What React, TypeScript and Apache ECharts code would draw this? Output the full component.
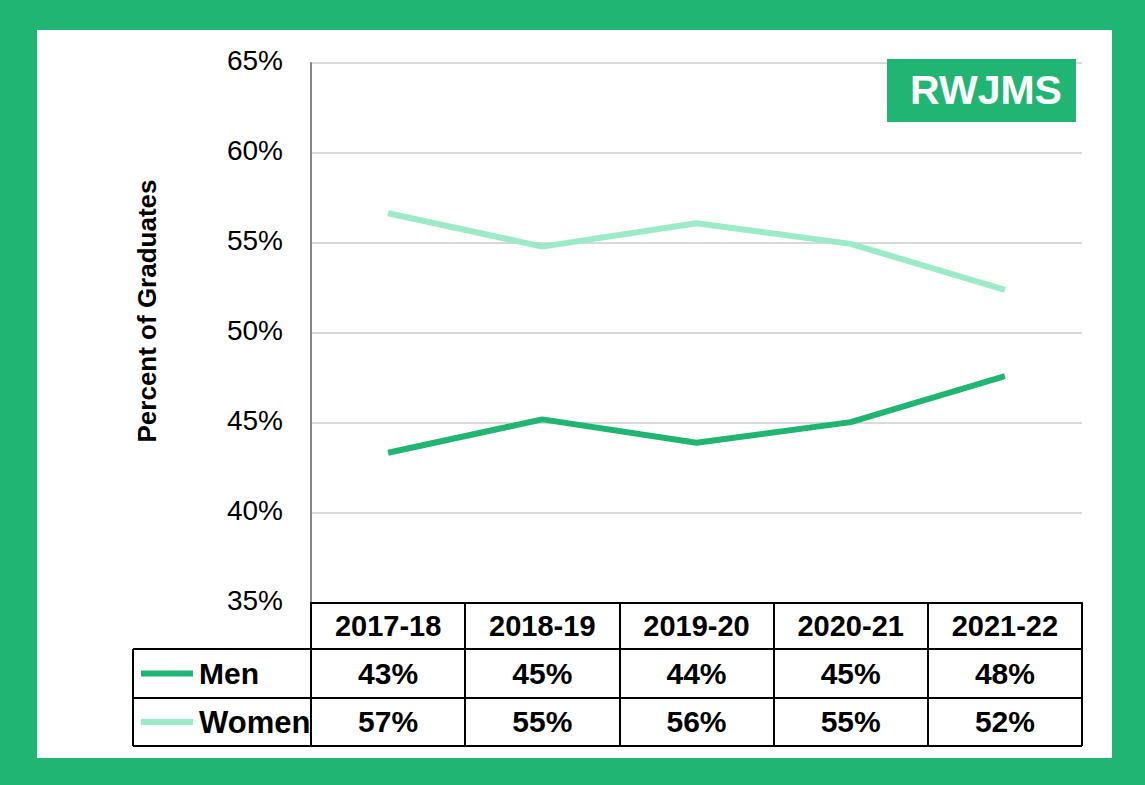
import React, { useEffect, useRef } from "react";
import * as echarts from "echarts";

const categories = ["2017-18", "2018-19", "2019-20", "2020-21", "2021-22"];
const menValues = [43.35, 45.2, 43.9, 45.05, 47.6];
const womenValues = [56.65, 54.8, 56.1, 54.95, 52.4];
const seriesNames = ["Men", "Women"];
const yTicks = { min: 35, max: 65, interval: 5 };
const axisTitle = "Percent of Graduates";
const badgeText = "RWJMS";

const GREEN = "#21B573";
const LIGHT = "#9BEBC8";
const FONT = "'Liberation Sans', Arial, sans-serif";

export default function App() {
  const ref = useRef<HTMLDivElement>(null);

  useEffect(() => {
    if (!ref.current) return;
    const chart = echarts.init(ref.current, undefined, { renderer: "svg" });

    const gridLeft = 274;
    const gridRight = 30;
    const gridTop = 33;
    const gridBottom = 155;
    const W = 1075;
    const H = 728;
    const axisY = H - gridBottom;
    const rowH1 = 46;
    const rowH2 = 49;
    const rowH3 = 48;
    const line1 = axisY + rowH1;
    const line2 = line1 + rowH2;
    const line3 = line2 + rowH3;
    const tableLeft = 96;
    const tableRight = W - gridRight;

    const lineColor = "#000";

    chart.setOption({
      animation: false,
      grid: { left: gridLeft, right: gridRight, top: gridTop, bottom: gridBottom },
      xAxis: {
        type: "category",
        data: categories,
        boundaryGap: true,
        axisLine: { show: true, lineStyle: { color: lineColor, width: 2 } },
        axisTick: {
          show: true,
          length: line3 - axisY,
          alignWithLabel: false,
          lineStyle: { color: lineColor, width: 2 },
        },
        axisLabel: {
          interval: 0,
          margin: 0,
          fontFamily: FONT,
          formatter: (value: string, index: number) =>
            `{h|${value}}\n{v|${Math.round(menValues[index])}%}\n{v|${Math.round(
              womenValues[index]
            )}%}`,
          rich: {
            h: {
              fontSize: 29,
              fontWeight: "bold",
              color: "#000",
              fontFamily: FONT,
              lineHeight: rowH1,
            },
            v: {
              fontSize: 30,
              fontWeight: "bold",
              color: "#000",
              fontFamily: FONT,
              lineHeight: 48.5,
            },
          },
        },
        splitLine: { show: false },
      },
      yAxis: {
        type: "value",
        min: yTicks.min,
        max: yTicks.max,
        interval: yTicks.interval,
        axisLine: { show: true, lineStyle: { color: "#868686", width: 2 } },
        axisTick: { show: false },
        axisLabel: {
          formatter: "{value}%",
          fontSize: 28,
          color: "#000",
          fontFamily: FONT,
          margin: 28,
          verticalAlign: "bottom",
          lineHeight: 6,
        },
        splitLine: { show: true, lineStyle: { color: "#d9d9d9", width: 2 } },
      },
      series: [
        {
          name: seriesNames[0],
          type: "line",
          data: menValues,
          symbol: "none",
          lineStyle: { color: GREEN, width: 6 },
          z: 3,
        },
        {
          name: seriesNames[1],
          type: "line",
          data: womenValues,
          symbol: "none",
          lineStyle: { color: LIGHT, width: 6 },
          z: 3,
        },
      ],
      graphic: [
        {
          type: "line",
          shape: { x1: tableLeft, y1: line1, x2: tableRight, y2: line1 },
          style: { stroke: lineColor, lineWidth: 2 },
        },
        {
          type: "line",
          shape: { x1: tableLeft, y1: line2, x2: tableRight, y2: line2 },
          style: { stroke: lineColor, lineWidth: 2 },
        },
        {
          type: "line",
          shape: { x1: tableLeft, y1: line3, x2: tableRight, y2: line3 },
          style: { stroke: lineColor, lineWidth: 2 },
        },
        {
          type: "line",
          shape: { x1: tableLeft, y1: line1, x2: tableLeft, y2: line3 },
          style: { stroke: lineColor, lineWidth: 2 },
        },
        {
          type: "line",
          shape: { x1: 104, y1: line1 + rowH2 / 2, x2: 156, y2: line1 + rowH2 / 2 },
          style: { stroke: GREEN, lineWidth: 6 },
        },
        {
          type: "line",
          shape: { x1: 104, y1: line2 + rowH3 / 2, x2: 156, y2: line2 + rowH3 / 2 },
          style: { stroke: LIGHT, lineWidth: 6 },
        },
        {
          type: "text",
          x: 162,
          y: line1 + rowH2 / 2,
          style: {
            text: seriesNames[0],
            fontSize: 30,
            fontWeight: "bold",
            fontFamily: FONT,
            fill: "#000",
            textAlign: "left",
            textVerticalAlign: "middle",
          },
        },
        {
          type: "text",
          x: 162,
          y: line2 + rowH3 / 2,
          style: {
            text: seriesNames[1],
            fontSize: 31,
            fontWeight: "bold",
            fontFamily: FONT,
            fill: "#000",
            textAlign: "left",
            textVerticalAlign: "middle",
          },
        },
        {
          type: "text",
          x: 110,
          y: 281,
          rotation: Math.PI / 2,
          style: {
            text: axisTitle,
            fontSize: 26,
            fontWeight: "bold",
            fontFamily: FONT,
            fill: "#000",
            textAlign: "center",
            textVerticalAlign: "middle",
          },
        },
        {
          type: "rect",
          shape: { x: 850, y: 29, width: 189, height: 63 },
          style: { fill: GREEN },
          z: 10,
        },
        {
          type: "text",
          x: 949,
          y: 60,
          z: 11,
          style: {
            text: badgeText,
            fontSize: 41,
            fontWeight: "bold",
            fontFamily: FONT,
            fill: "#fff",
            textAlign: "center",
            textVerticalAlign: "middle",
          },
        },
      ],
    });

    return () => {
      chart.dispose();
    };
  }, []);

  return (
    <div
      style={{
        position: "fixed",
        left: 0,
        top: 0,
        width: 1145,
        height: 785,
        background: GREEN,
      }}
    >
      <div
        ref={ref}
        style={{
          position: "absolute",
          left: 37,
          top: 30,
          width: 1075,
          height: 728,
          background: "#fff",
        }}
      />
    </div>
  );
}
